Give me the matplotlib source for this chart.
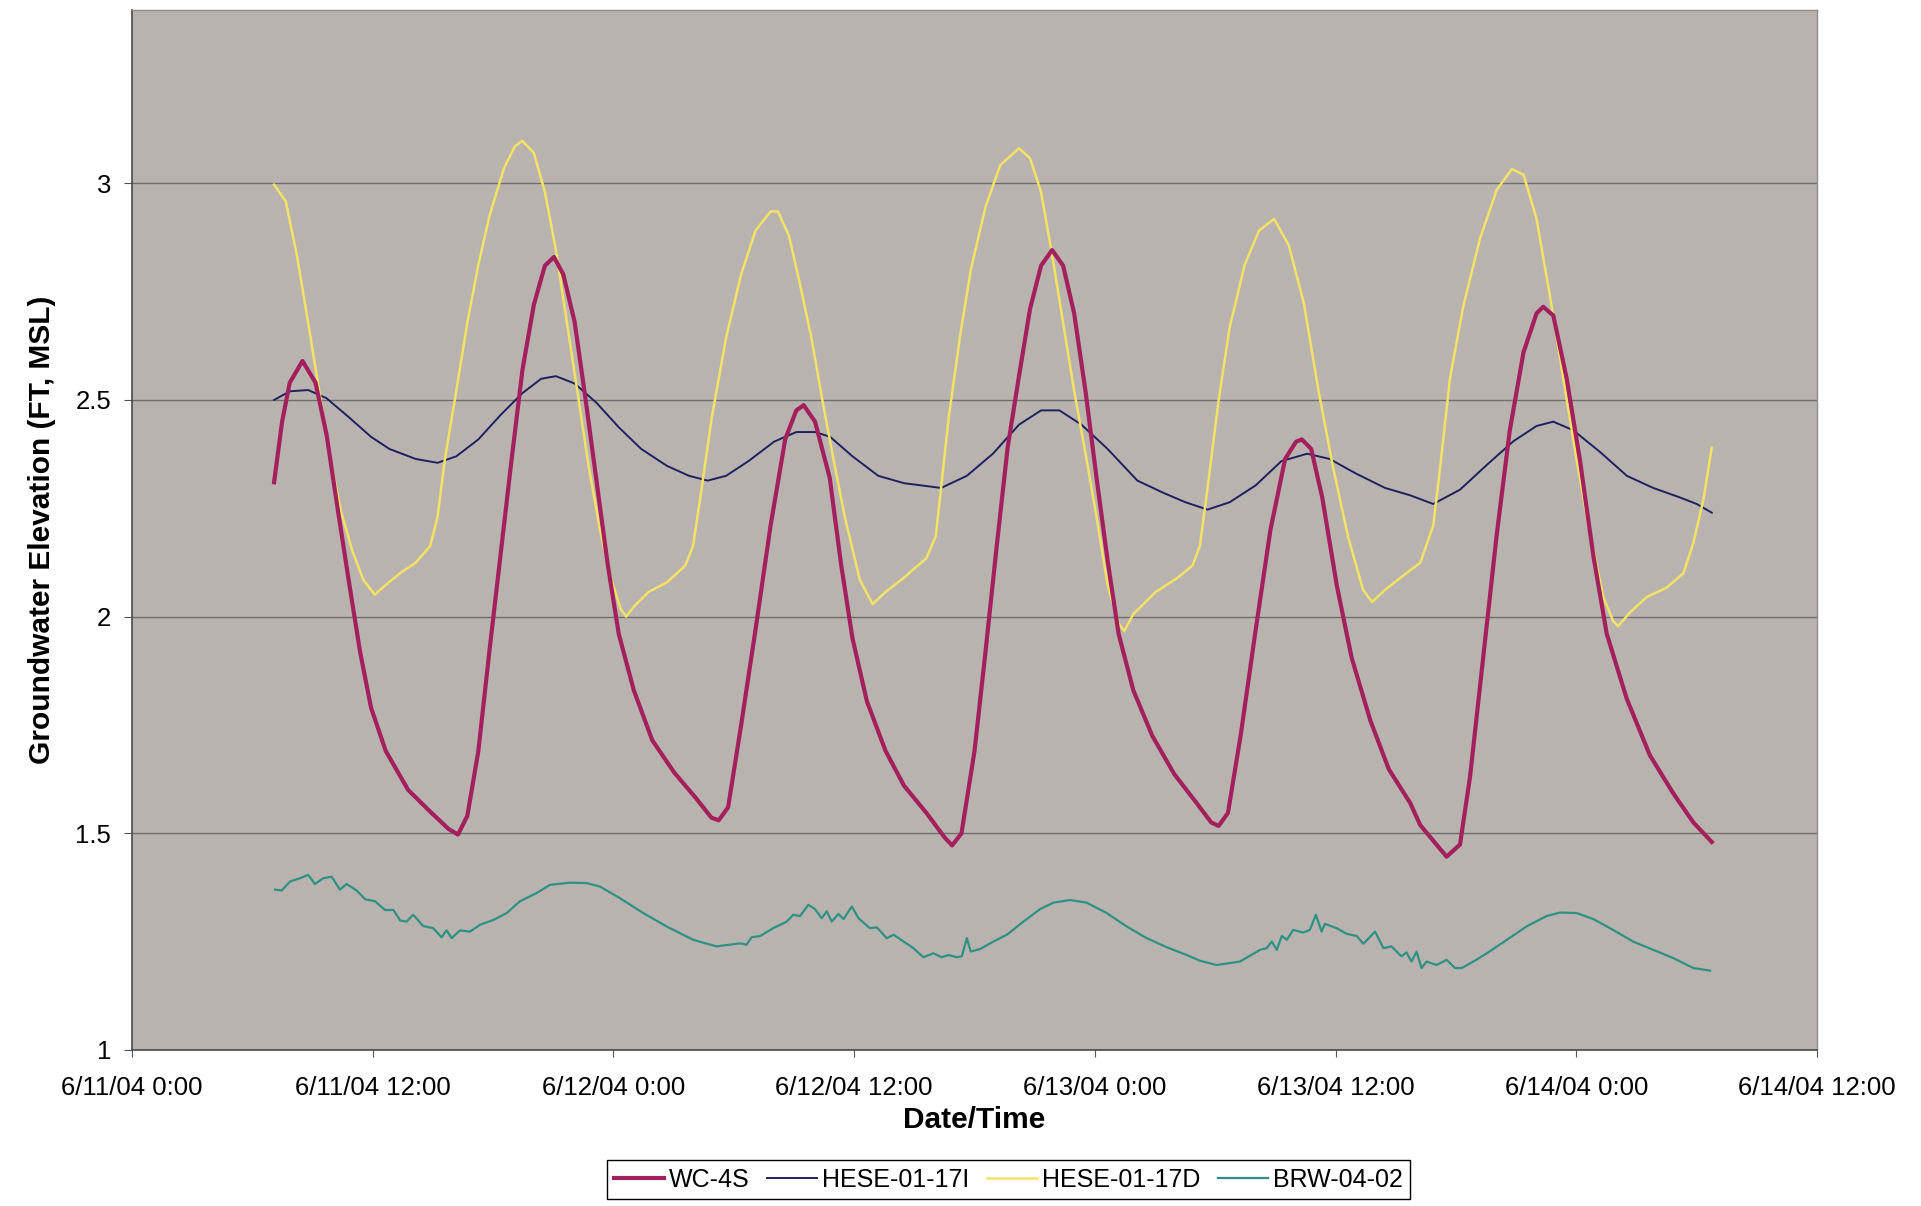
import matplotlib
matplotlib.use("Agg")
import matplotlib.pyplot as plt
import matplotlib.dates as mdates
import numpy as np
from matplotlib.ticker import FuncFormatter

plt.rcParams['font.family'] = ['Liberation Sans', 'DejaVu Sans']

# hours after 6/11/04 0:00 and groundwater elevation (ft, MSL)
wc4s_hr = [7.08, 7.49, 7.86, 8.50, 9.15, 9.70, 10.25, 10.81, 11.36, 11.91, 12.65, 13.76, 14.86, 15.79, 16.25,
           16.71, 17.26, 17.81, 18.37, 18.92, 19.47, 20.03, 20.58, 21.04, 21.50, 22.06, 22.61, 23.16, 23.72,
           24.27, 25.01, 25.93, 27.04, 28.14, 28.88, 29.25, 29.71, 30.36, 31.09, 31.83, 32.57, 33.12, 33.49,
           34.05, 34.78, 35.35, 35.91, 36.64, 37.57, 38.49, 39.60, 40.52, 40.89, 41.35, 42.00, 42.55, 43.10,
           43.65, 44.21, 44.76, 45.31, 45.87, 46.42, 46.97, 47.53, 48.08, 48.63, 49.19, 49.92, 50.85, 51.95,
           53.06, 53.80, 54.17, 54.63, 55.27, 56.01, 56.75, 57.48, 58.04, 58.32, 58.78, 59.33, 60.07, 60.80,
           61.73, 62.65, 63.72, 64.21, 65.54, 66.20, 66.70, 67.36, 68.03, 68.69, 69.36, 70.02, 70.35, 70.85,
           71.52, 72.18, 72.85, 73.51, 74.51, 75.67, 76.84, 77.83, 78.75]
wc4s = [2.31, 2.45, 2.54, 2.59, 2.54, 2.42, 2.25, 2.08, 1.92, 1.79, 1.69, 1.60, 1.55, 1.51, 1.497,
        1.54, 1.69, 1.92, 2.14, 2.36, 2.57, 2.72, 2.81, 2.83, 2.79, 2.68, 2.50, 2.31, 2.12,
        1.96, 1.83, 1.715, 1.64, 1.58, 1.536, 1.53, 1.56, 1.75, 1.97, 2.21, 2.41, 2.476, 2.488,
        2.45, 2.32, 2.12, 1.95, 1.805, 1.69, 1.61, 1.547, 1.49, 1.472, 1.50, 1.69, 1.92, 2.16,
        2.39, 2.555, 2.71, 2.81, 2.846, 2.81, 2.70, 2.52, 2.32, 2.13, 1.96, 1.83, 1.726, 1.637,
        1.57, 1.525, 1.517, 1.547, 1.726, 1.97, 2.20, 2.364, 2.404, 2.409, 2.387, 2.275, 2.07, 1.905,
        1.76, 1.648, 1.57, 1.519, 1.446, 1.474, 1.63, 1.91, 2.19, 2.43, 2.61, 2.70, 2.715, 2.695,
        2.55, 2.36, 2.14, 1.96, 1.81, 1.68, 1.592, 1.525, 1.48]

hese_i_hr = [7.08, 7.86, 8.78, 9.70, 10.81, 11.91, 12.84, 14.13, 15.23, 16.16, 17.26, 18.37, 19.47, 20.40,
             21.13, 22.06, 23.16, 24.27, 25.38, 26.67, 27.77, 28.70, 29.62, 30.73, 32.02, 33.12, 34.05, 34.80,
             35.91, 37.20, 38.49, 40.33, 41.62, 42.92, 44.21, 45.31, 46.23, 47.34, 48.63, 50.11, 51.40, 52.51,
             53.61, 54.72, 56.01, 57.30, 58.59, 59.70, 60.99, 62.47, 63.72, 64.87, 66.20, 67.53, 68.86, 70.02,
             70.85, 71.85, 73.18, 74.51, 75.84, 77.17, 78.00, 78.75]
hese_i = [2.50, 2.52, 2.523, 2.504, 2.46, 2.415, 2.387, 2.364, 2.355, 2.37, 2.409, 2.465, 2.516, 2.549,
          2.555, 2.538, 2.493, 2.437, 2.387, 2.348, 2.325, 2.314, 2.325, 2.359, 2.404, 2.426, 2.426, 2.415,
          2.37, 2.325, 2.308, 2.297, 2.325, 2.376, 2.443, 2.476, 2.476, 2.443, 2.387, 2.314, 2.286, 2.264,
          2.247, 2.264, 2.303, 2.359, 2.376, 2.364, 2.331, 2.297, 2.28, 2.26, 2.293, 2.35, 2.405, 2.44,
          2.45, 2.43, 2.38, 2.325, 2.297, 2.275, 2.26, 2.24]

hese_d_hr = [7.08, 7.67, 8.22, 8.78, 9.33, 9.88, 10.44, 10.99, 11.54, 12.10, 12.65, 13.39, 14.13, 14.86,
             15.23, 15.60, 16.16, 16.71, 17.26, 17.81, 18.55, 19.10, 19.47, 20.03, 20.58, 21.13, 21.69, 22.24,
             22.79, 23.35, 23.90, 24.36, 24.64, 25.01, 25.75, 26.67, 27.59, 27.96, 28.33, 28.88, 29.62, 30.36,
             31.09, 31.83, 32.20, 32.75, 33.30, 33.86, 34.41, 34.97, 35.54, 36.28, 36.92, 37.57, 38.49, 39.60,
             40.06, 40.33, 40.70, 41.26, 41.81, 42.55, 43.28, 44.21, 44.76, 45.31, 45.87, 46.42, 46.97, 47.53,
             48.08, 48.63, 49.19, 49.46, 49.92, 51.03, 52.14, 52.87, 53.24, 53.61, 54.17, 54.72, 55.46, 56.19,
             56.93, 57.67, 58.41, 59.15, 59.88, 60.62, 61.36, 61.82, 62.47, 63.72, 64.21, 64.87, 65.20, 65.70,
             66.37, 67.20, 68.03, 68.78, 69.36, 70.02, 70.69, 71.35, 72.02, 72.68, 73.35, 73.84, 74.09, 74.68,
             75.50, 76.50, 77.33, 77.83, 78.33, 78.75]
hese_d = [2.997, 2.958, 2.835, 2.678, 2.521, 2.364, 2.241, 2.152, 2.085, 2.051, 2.073, 2.101, 2.124, 2.163,
          2.23, 2.364, 2.521, 2.678, 2.812, 2.924, 3.036, 3.086, 3.098, 3.07, 2.98, 2.846, 2.678, 2.51,
          2.342, 2.196, 2.085, 2.017, 2.0, 2.023, 2.057, 2.079, 2.118, 2.163, 2.275, 2.454, 2.644, 2.79,
          2.891, 2.935, 2.935, 2.879, 2.767, 2.644, 2.499, 2.364, 2.23, 2.085, 2.029, 2.057, 2.09, 2.135,
          2.185, 2.297, 2.454, 2.644, 2.801, 2.946, 3.042, 3.081, 3.058, 2.98, 2.835, 2.678, 2.521, 2.376,
          2.23, 2.073, 1.984, 1.967, 2.006, 2.057, 2.09, 2.118, 2.163, 2.297, 2.499, 2.667, 2.812, 2.891,
          2.918, 2.857, 2.723, 2.521, 2.342, 2.185, 2.062, 2.034, 2.062, 2.107, 2.124, 2.21, 2.34, 2.55,
          2.717, 2.873, 2.985, 3.033, 3.02, 2.918, 2.74, 2.55, 2.36, 2.19, 2.045, 1.99, 1.978, 2.01,
          2.045, 2.067, 2.1, 2.17, 2.27, 2.39]

brw_hr = [7.13, 7.46, 7.88, 8.37, 8.79, 9.12, 9.54, 9.95, 10.37, 10.70, 11.20, 11.61, 12.11, 12.61, 13.03,
          13.36, 13.69, 14.02, 14.52, 15.02, 15.44, 15.69, 15.93, 16.35, 16.85, 17.35, 18.01, 18.68, 19.34,
          20.17, 20.84, 21.83, 22.66, 23.33, 24.33, 25.49, 26.65, 27.98, 29.14, 30.31, 30.64, 30.89, 31.31,
          31.97, 32.64, 32.97, 33.30, 33.72, 34.05, 34.38, 34.63, 34.88, 35.21, 35.46, 35.88, 36.21, 36.79,
          37.13, 37.62, 37.96, 38.46, 38.95, 39.45, 39.95, 40.37, 40.70, 41.11, 41.36, 41.61, 41.81, 42.28,
          42.94, 43.61, 44.44, 45.27, 45.93, 46.76, 47.59, 48.59, 49.59, 50.59, 51.58, 52.58, 53.24, 54.07,
          55.24, 56.24, 56.56, 56.81, 57.06, 57.31, 57.56, 57.89, 58.39, 58.72, 59.02, 59.30, 59.47, 60.05,
          60.55, 61.05, 61.38, 61.96, 62.38, 62.79, 63.29, 63.54, 63.79, 64.04, 64.29, 64.54, 65.04, 65.54,
          65.95, 66.28, 66.86, 67.53, 68.53, 69.52, 70.52, 71.19, 72.02, 72.85, 73.84, 74.84, 75.84, 76.83,
          77.83, 78.66]
brw = [1.370, 1.368, 1.389, 1.396, 1.404, 1.383, 1.396, 1.400, 1.370, 1.383, 1.368, 1.348, 1.343, 1.323, 1.323,
       1.299, 1.296, 1.312, 1.286, 1.281, 1.260, 1.276, 1.258, 1.276, 1.273, 1.289, 1.300, 1.316, 1.343,
       1.362, 1.381, 1.386, 1.385, 1.377, 1.350, 1.316, 1.285, 1.254, 1.239, 1.246, 1.243, 1.260, 1.263,
       1.281, 1.296, 1.312, 1.309, 1.335, 1.325, 1.304, 1.320, 1.296, 1.314, 1.302, 1.331, 1.304, 1.281,
       1.283, 1.258, 1.266, 1.250, 1.235, 1.214, 1.223, 1.214, 1.219, 1.214, 1.216, 1.258, 1.227, 1.233,
       1.250, 1.266, 1.296, 1.325, 1.340, 1.346, 1.340, 1.316, 1.285, 1.258, 1.237, 1.219, 1.206, 1.196,
       1.204, 1.231, 1.235, 1.250, 1.231, 1.263, 1.254, 1.277, 1.271, 1.277, 1.312, 1.273, 1.291, 1.281,
       1.268, 1.263, 1.245, 1.273, 1.235, 1.239, 1.216, 1.225, 1.204, 1.227, 1.189, 1.204, 1.196, 1.208,
       1.189, 1.189, 1.204, 1.223, 1.254, 1.285, 1.309, 1.317, 1.316, 1.302, 1.277, 1.250, 1.231, 1.212,
       1.189, 1.183]

start = np.datetime64('2004-06-11T00:00')

def to_time(hours):
    return start + (np.array(hours) * 60).round().astype('timedelta64[m]')

fig = plt.figure(figsize=(19.21, 12.06), dpi=100)
ax = fig.add_axes([0.0687, 0.1294, 0.8772, 0.8623])
ax.set_facecolor('#b9b3af')

ax.plot(to_time(wc4s_hr), wc4s, color='#a3205c', lw=3.0, label='WC-4S', zorder=5)
ax.plot(to_time(hese_i_hr), hese_i, color='#1e2160', lw=1.4, label='HESE-01-17I', zorder=3)
ax.plot(to_time(hese_d_hr), hese_d, color='#f2e266', lw=1.8, label='HESE-01-17D', zorder=4)
ax.plot(to_time(brw_hr), brw, color='#2f9183', lw=1.6, label='BRW-04-02', zorder=3)

ax.set_ylim(1, 3.4)
ax.set_yticks([1, 1.5, 2, 2.5, 3])
ax.set_yticklabels(['1', '1.5', '2', '2.5', '3'])
ax.yaxis.grid(True, color='#6e6e6e', lw=1.0)
ax.set_axisbelow(True)

ax.set_xlim(start, start + np.timedelta64(84, 'h'))
ax.xaxis.set_major_locator(mdates.HourLocator(byhour=[0, 12]))

def fmt_date(x, pos):
    d = mdates.num2date(x)
    return f"{d.month}/{d.day}/{d:%y} {d.hour}:{d:%M}"

ax.xaxis.set_major_formatter(FuncFormatter(fmt_date))
ax.tick_params(axis='x', labelsize=18.5, length=5, color='#555555', pad=14)
ax.tick_params(axis='y', labelsize=18.5, length=6, color='#555555', pad=9)

for side in ['left', 'bottom']:
    ax.spines[side].set_color('#4a4a4a')
    ax.spines[side].set_linewidth(1.2)
for side in ['top', 'right']:
    ax.spines[side].set_color('#8c8c8c')
    ax.spines[side].set_linewidth(1.0)

ax.set_xlabel('Date/Time', fontsize=21.5, fontweight='bold', labelpad=4)
ax.set_ylabel('Groundwater Elevation (FT, MSL)', fontsize=21.5, fontweight='bold', labelpad=14)

leg = fig.legend(loc='center', bbox_to_anchor=(0.525, 0.0216), ncol=4, fontsize=18,
                 frameon=True, fancybox=False, edgecolor='black', framealpha=1,
                 handlelength=2.0, handletextpad=0.2, columnspacing=0.7, borderpad=0.3)
leg.get_frame().set_linewidth(1.0)

fig.savefig('out.png', dpi=100, facecolor='white')
